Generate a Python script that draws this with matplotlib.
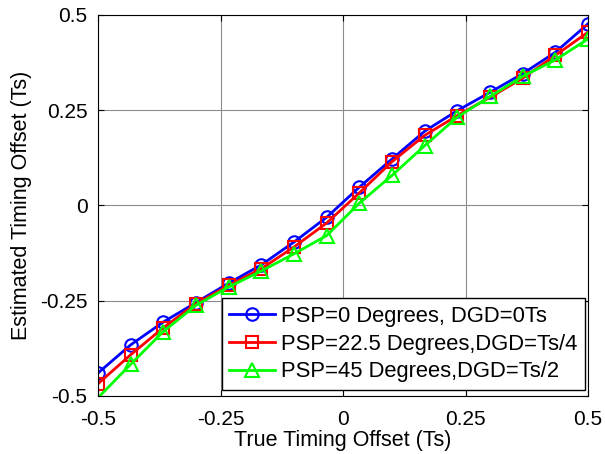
import numpy as np
import matplotlib
matplotlib.use("Agg")
import matplotlib.pyplot as plt

plt.rcParams['font.family'] = ['Liberation Sans', 'DejaVu Sans']

# true timing offset (Ts)
true_offset = [-0.5, -0.4333, -0.3667, -0.3, -0.2333, -0.1667, -0.1, -0.0333,
               0.0333, 0.1, 0.1667, 0.2333, 0.3, 0.3667, 0.4333, 0.5]

# estimated offsets
est_psp0 = [-0.440, -0.366, -0.306, -0.255, -0.204, -0.156, -0.096, -0.031,
            0.048, 0.122, 0.195, 0.249, 0.297, 0.346, 0.402, 0.477]
est_psp225 = [-0.468, -0.392, -0.321, -0.258, -0.210, -0.166, -0.109, -0.046,
              0.033, 0.115, 0.184, 0.236, 0.284, 0.334, 0.394, 0.455]
est_psp45 = [-0.505, -0.417, -0.331, -0.262, -0.214, -0.172, -0.127, -0.079,
             0.006, 0.079, 0.157, 0.232, 0.286, 0.339, 0.382, 0.437]

labels = ['PSP=0 Degrees, DGD=0Ts',
          'PSP=22.5 Degrees,DGD=Ts/4',
          'PSP=45 Degrees,DGD=Ts/2']

fig = plt.figure(figsize=(6.05, 4.54), dpi=100)
ax = fig.add_axes([0.162, 0.128, 0.81, 0.839])

ax.plot(true_offset, est_psp0, color=(0, 0, 1), lw=2, marker='o', ms=9,
        mfc='none', mew=1.5, label=labels[0])
ax.plot(true_offset, est_psp225, color=(1, 0, 0), lw=2, marker='s', ms=8,
        mfc='none', mew=1.5, label=labels[1])
# first green point lies outside the limits, so no marker there
ax.plot(true_offset, est_psp45, color=(0, 1, 0), lw=2, marker='^', ms=10,
        mfc='none', mew=1.5, label=labels[2], markevery=list(range(1, 16)))

ax.set_xlim(-0.5, 0.5)
ax.set_ylim(-0.5, 0.5)
ticks = [-0.5, -0.25, 0, 0.25, 0.5]
tick_labels = ['-0.5', '-0.25', '0', '0.25', '0.5']
ax.set_xticks(ticks)
ax.set_xticklabels(tick_labels)
ax.set_yticks(ticks)
ax.set_yticklabels(tick_labels)
ax.tick_params(direction='in', top=True, right=True, labelsize=15, length=4)
ax.tick_params(axis='x', pad=10)
ax.tick_params(axis='y', pad=7.5)
ax.grid(True, color='#8c8c8c', lw=0.8)
for s in ax.spines.values():
    s.set_linewidth(0.8)

ax.set_xlabel('True Timing Offset (Ts)', fontsize=15.5, labelpad=1)
ax.set_ylabel('Estimated Timing Offset (Ts)', fontsize=15.5, labelpad=6)

leg = ax.legend(loc='lower right', bbox_to_anchor=(585 / 605, 1 - 390 / 454),
                bbox_transform=fig.transFigure, fontsize=15.8, fancybox=False,
                edgecolor='black', framealpha=1, handlelength=2.1,
                borderpad=0.35, labelspacing=0.3, handletextpad=0.25,
                borderaxespad=0)
leg.get_frame().set_linewidth(1.0)

fig.savefig('out.png', dpi=100)
